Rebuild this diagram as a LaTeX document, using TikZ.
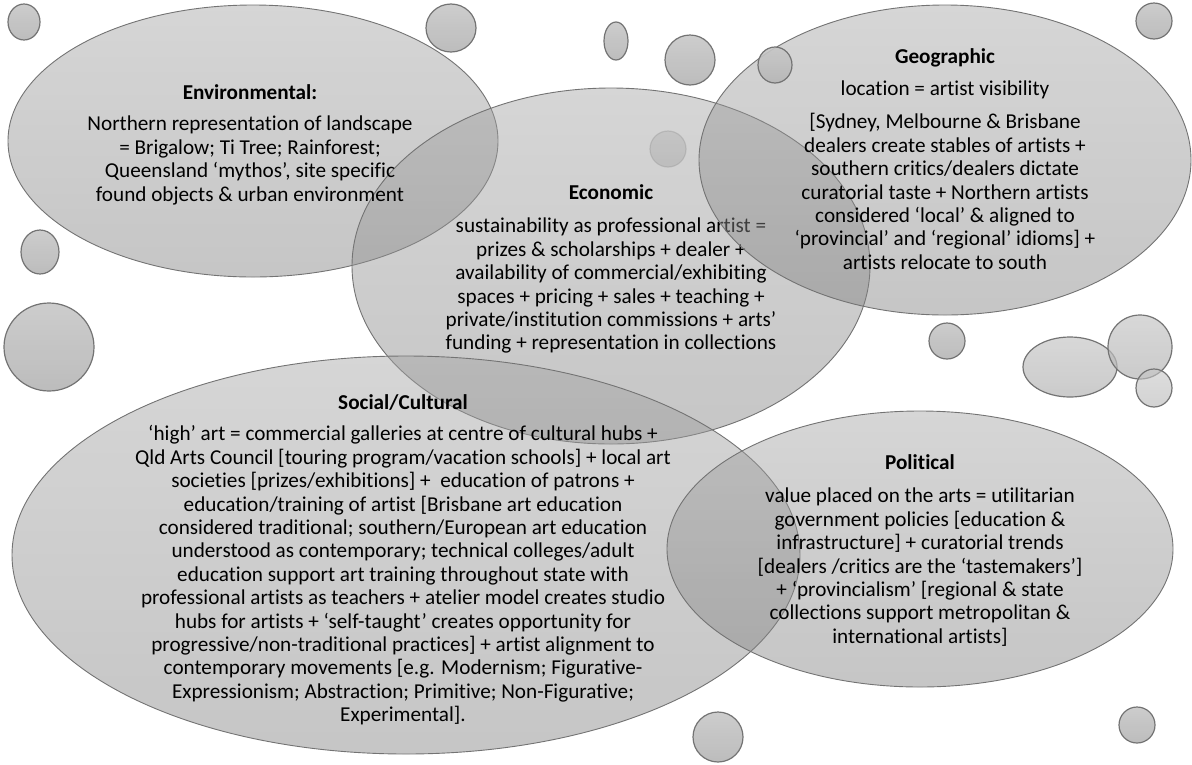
\documentclass[tikz,border=0pt]{standalone}
\usepackage{fontspec}
\setmainfont[Ligatures=NoCommon]{Carlito}
\usepackage{tikz}
\usetikzlibrary{shapes.geometric}

\begin{document}
\begin{tikzpicture}[x=1pt, y=-1pt, line width=0.9pt]
	\tikzstyle{factor}=[ellipse, draw=black!55, top color=black!36, bottom color=black!50, fill opacity=0.45, inner sep=0pt]
	\tikzstyle{bubble}=[ellipse, draw=black!55, line width=1.2pt, top color=black!22, bottom color=black!29, fill opacity=0.9, inner sep=0pt]
	\tikzstyle{factortext}=[align=center, anchor=north, inner sep=0pt, font=\fontsize{21.2}{23.4}\selectfont]

	\useasboundingbox (0,0) rectangle (1192,764);

	\node[bubble, draw=black!35, opacity=0.5, minimum width=36, minimum height=36] (b9) at (668,149) {};

	\node[factor, minimum width=490, minimum height=272] (env) at (253,141) {};
	\node[factor, minimum width=518, minimum height=356] (econ) at (611,266) {};
	\node[factortext] (envtext) at (250,84.6) {\textbf{Environmental:}\\[7.6pt]
		Northern representation of landscape\\
		= Brigalow; Ti Tree; Rainforest;\\
		Queensland ‘mythos’, site specific\\
		found objects \& urban environment};
	\node[factortext] (econtext) at (611,184.6) {\textbf{Economic}\\[9.6pt]
		sustainability as professional artist =\\
		prizes \& scholarships + dealer +\\
		availability of commercial/exhibiting\\
		spaces + pricing + sales + teaching +\\
		private/institution commissions + arts’\\
		funding + representation in collections};

	\node[factor, minimum width=492, minimum height=310] (geo) at (945,160) {};
	\node[factortext] (geotext) at (945,48.6) {\textbf{Geographic}\\[8.6pt]
		location = artist visibility\\[9.6pt]
		{}[Sydney, Melbourne \& Brisbane\\
		dealers create stables of artists +\\
		southern critics/dealers dictate\\
		curatorial taste + Northern artists\\
		considered ‘local’ \& aligned to\\
		‘provincial’ and ‘regional’ idioms] +\\
		artists relocate to south};

	\node[factor, minimum width=788, minimum height=398] (social) at (406,555) {};
	\node[factortext] (socialtext) at (403,394.6) {\textbf{Social/Cultural}\\[7.6pt]
		‘high’ art = commercial galleries at centre of cultural hubs +\\
		Qld Arts Council [touring program/vacation schools] + local art\\
		societies [prizes/exhibitions] +~ education of patrons +\\
		education/training of artist [Brisbane art education\\
		considered traditional; southern/European art education\\
		understood as contemporary; technical colleges/adult\\
		education support art training throughout state with\\
		professional artists as teachers + atelier model creates studio\\
		hubs for artists + ‘self-taught’ creates opportunity for\\
		progressive/non-traditional practices] + artist alignment to\\
		contemporary movements [e.g. Modernism; Figurative-\\
		Expressionism; Abstraction; Primitive; Non-Figurative;\\
		Experimental].};

	\node[factor, minimum width=506, minimum height=276] (pol) at (920,549) {};
	\node[factortext] (poltext) at (920,454.6) {\textbf{Political}\\[9.6pt]
		value placed on the arts = utilitarian\\
		government policies [education \&\\
		infrastructure] + curatorial trends\\
		{}[dealers /critics are the ‘tastemakers’]\\
		+ ‘provincialism’ [regional \& state\\
		collections support metropolitan \&\\
		international artists]};

	% bubbles
	\node[bubble, minimum width=32, minimum height=36] (b1) at (24,22) {};
	\node[bubble, minimum width=50, minimum height=48] (b2) at (451,28) {};
	\node[bubble, minimum width=38, minimum height=44] (b3) at (40,252) {};
	\node[bubble, minimum width=90, minimum height=88] (b4) at (49,347) {};
	\node[bubble, minimum width=24, minimum height=38] (b5) at (616,41) {};
	\node[bubble, minimum width=50, minimum height=50] (b6) at (690,60) {};
	\node[bubble, minimum width=34, minimum height=36] (b7) at (775,65) {};
	\node[bubble, minimum width=36, minimum height=36] (b8) at (1154,21) {};
	\node[bubble, minimum width=36, minimum height=36] (b10) at (947,341) {};
	\node[bubble, fill opacity=0.7, minimum width=94, minimum height=60] (b15) at (1070,367) {};
	\node[bubble, fill opacity=0.7, minimum width=64, minimum height=64] (b11) at (1140,347) {};
	\node[bubble, fill opacity=0.6, minimum width=36, minimum height=38] (b12) at (1154,388) {};
	\node[bubble, minimum width=50, minimum height=50] (b13) at (718,737) {};
	\node[bubble, minimum width=36, minimum height=36] (b14) at (1137,725) {};
\end{tikzpicture}
\end{document}
